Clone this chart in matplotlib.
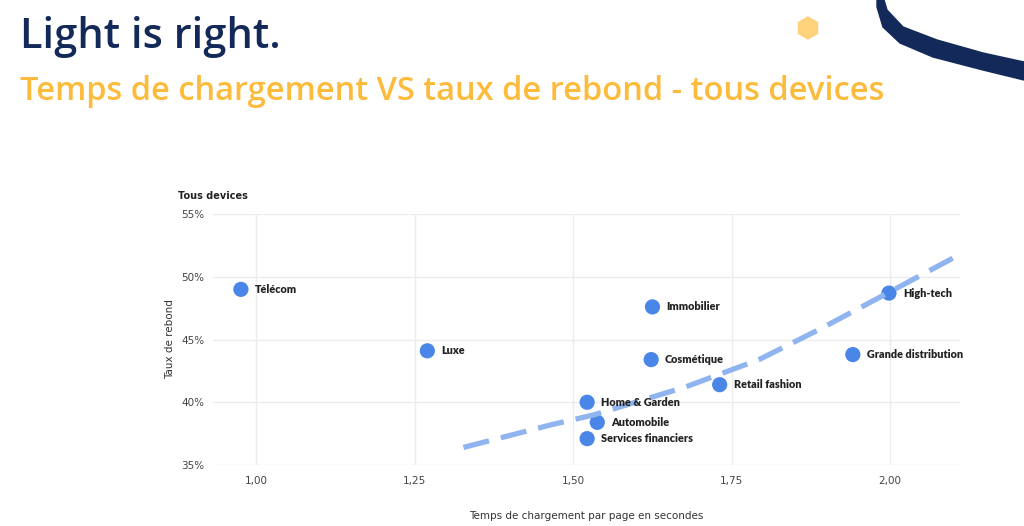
import numpy as np
import matplotlib.pyplot as plt
from matplotlib.patches import RegularPolygon, Polygon

# données
secteurs = ["Télécom", "Luxe", "Home & Garden", "Automobile", "Services financiers",
            "Immobilier", "Cosmétique", "Retail fashion", "Grande distribution", "High-tech"]
temps = [0.976, 1.27, 1.522, 1.538, 1.522, 1.625, 1.623, 1.731, 1.941, 1.998]
rebond = [49.0, 44.1, 40.0, 38.4, 37.1, 47.6, 43.4, 41.4, 43.8, 48.7]

# courbe de tendance (pointillés)
tend_x = [1.327, 1.465, 1.533, 1.676, 1.793, 1.888, 1.992, 2.114]
tend_y = [36.4, 38.2, 39.0, 41.2, 43.4, 45.8, 48.6, 51.9]

xticks = [1.00, 1.25, 1.50, 1.75, 2.00]
xticklabels = ["1,00", "1,25", "1,50", "1,75", "2,00"]
yticks = [35, 40, 45, 50, 55]
yticklabels = ["35%", "40%", "45%", "50%", "55%"]

navy = "#12295a"
jaune = "#fdbb3c"
bleu = "#4a86e8"

fig = plt.figure(figsize=(10.24, 5.26), dpi=100)
fig.patch.set_facecolor("white")

# calque de décor en pixels
deco = fig.add_axes([0, 0, 1, 1], zorder=-1)
deco.set_xlim(0, 1024)
deco.set_ylim(526, 0)
deco.axis("off")
deco.add_patch(RegularPolygon((808, 28), 6, radius=11, color="#fdd27a"))
outer = [(877, 0), (877, 7), (883, 27), (900, 43), (933, 57), (983, 70), (1024, 80)]
inner = [(1024, 62), (983, 53), (937, 40), (903, 27), (887, 10), (884, 0)]
deco.add_patch(Polygon(outer + inner, closed=True, color=navy))

deco.text(20, 37, "Light is right.", fontsize=30, color=navy, family="Open Sans",
          fontweight=600, va="center", ha="left")
deco.text(20, 91, "Temps de chargement VS taux de rebond - tous devices",
          fontsize=23.5, color=jaune, family="Open Sans", fontweight=600,
          va="center", ha="left")

ax = fig.add_axes([213 / 1024, 0.116, (960 - 213) / 1024, 0.477])
ax.set_xlim(0.932, 2.11)
ax.set_ylim(35, 55)
for s in ax.spines.values():
    s.set_visible(False)
ax.grid(True, color="#ececec", lw=1)
ax.set_axisbelow(True)
ax.set_xticks(xticks)
ax.set_xticklabels(xticklabels)
ax.set_yticks(yticks)
ax.set_yticklabels(yticklabels)
ax.tick_params(length=0, labelsize=7.5, labelcolor="#444444", pad=8)
ax.tick_params(axis="y", pad=6)

ax.plot(tend_x, tend_y, color="#8fb4ef", lw=3.8, dashes=(5, 2.3), solid_capstyle="butt",
        zorder=3, clip_on=False)
ax.scatter(temps, rebond, s=120, color=bleu, zorder=2, edgecolors="none")
for nom, x, y in zip(secteurs, temps, rebond):
    ax.annotate(nom, (x, y), xytext=(10, 0), textcoords="offset points",
                fontsize=7.8, fontweight="heavy", color="#222222", family="Lato",
                va="center", ha="left")

ax.set_ylabel("Taux de rebond", fontsize=7.5, color="#333333", labelpad=5)
ax.set_xlabel("Temps de chargement par page en secondes", fontsize=7.5,
              color="#333333", labelpad=18)
deco.text(178, 196, "Tous devices", fontsize=7, fontweight="bold",
          color="#222222", va="center", ha="left")

fig.savefig("out.png", dpi=100)
